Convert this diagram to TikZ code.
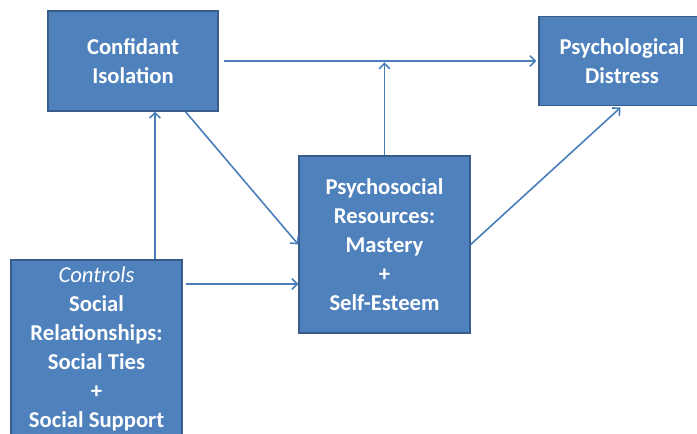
\documentclass[tikz,border=0pt]{standalone}
\usepackage{fontspec}
\setmainfont{Carlito}
\usepackage{xcolor}
\usepackage{tikz}
\usetikzlibrary{arrows.meta, positioning}

\definecolor{boxblue}{RGB}{79,129,189}
\definecolor{boxedge}{RGB}{56,93,138}
\definecolor{linkblue}{RGB}{74,126,187}

\begin{document}
\begin{tikzpicture}[
            x=0.75pt, y=-0.75pt,               % one unit per pixel, y pointing down
            block/.style={
                rectangle,
                draw=boxedge,
                line width=1pt,
                fill=boxblue,
                text=white,
                align=center,
                inner sep=3pt,
                font=\bfseries\fontsize{17}{21.75}\selectfont
            },
            line/.style={
                draw=linkblue,
                line width=1.2pt,
                -{Straight Barb[length=4pt, width=8pt]}
            }
        ]
            \useasboundingbox (0,0) rectangle (697,433);

            % --- NODES ---
            \node [block, minimum width=127.5pt, minimum height=75pt] (isolation) at (133,61) {
                Confidant\\Isolation
            };

            \node [block, minimum width=124.5pt, minimum height=66.75pt] (distress) at (622,61) {
                Psychological\\Distress
            };

            \node [block, minimum width=128.25pt, minimum height=132.75pt] (resources) at (384.5,244.5) {
                Psychosocial\\Resources:\\Mastery\\+\\Self-Esteem
            };

            \node [block, minimum width=128.25pt, minimum height=133.5pt] (controls) at (96.5,349) {
                {\mdseries\itshape Controls}\\Social\\Relationships:\\Social Ties\\+\\Social Support
            };

            \coordinate (junction) at (resources.north |- isolation.east);
            \coordinate (upfoot) at ([xshift=16.5pt]isolation.south);
            \coordinate (tiesin) at ([yshift=-29.6pt]resources.west);

            % --- LINKS ---
            \path [line, shorten <=3.75pt, shorten >=1.5pt] (isolation.east) -- (distress.west);
            \path [line, shorten >=1pt] (resources.north) -- (junction);
            \path [line] (isolation.-44) -- (resources.west);
            \path [line] (controls.north -| upfoot) -- (upfoot);
            \path [line, shorten <=2.5pt] (controls.east |- tiesin) -- (tiesin);
            \path [line, shorten >=1.5pt] (resources.east) -- (distress.south);
        \end{tikzpicture}
\end{document}
